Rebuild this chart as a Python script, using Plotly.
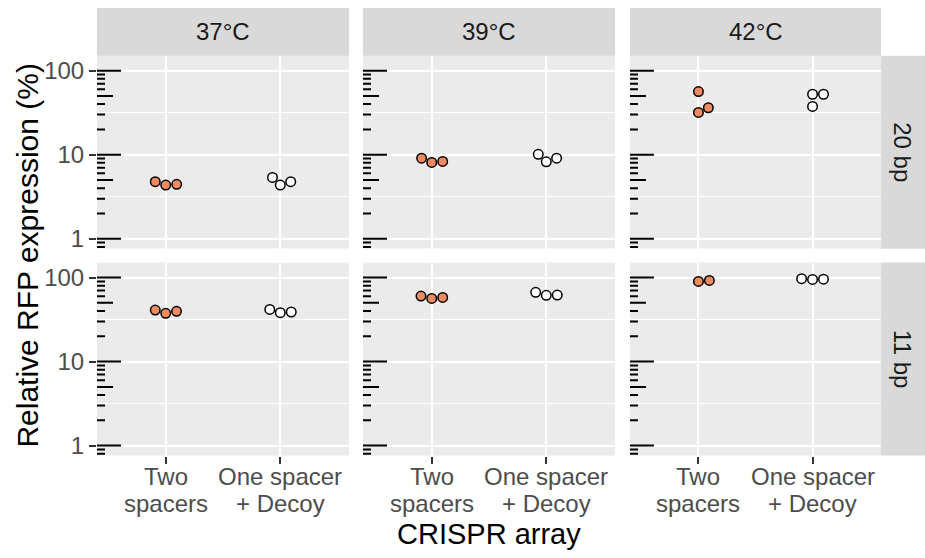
import numpy as np
import plotly.graph_objects as go

# ---- data -------------------------------------------------------------
temps = ["37°C", "39°C", "42°C"]
spacer_lengths = ["20 bp", "11 bp"]
array_labels = [["Two", "spacers"], ["One spacer", "+ Decoy"]]
y_tick_values = [1, 10, 100]
y_tick_labels = ["1", "10", "100"]

# Relative RFP expression (%) of the replicates, one list per temperature
two_spacers_20bp = [[4.77, 4.35, 4.44], [9.10, 8.09, 8.31], [56.4, 36.2, 31.8]]
decoy_20bp = [[5.37, 4.35, 4.77], [10.1, 8.22, 9.10], [52.4, 52.4, 37.5]]
two_spacers_11bp = [[41.0, 37.5, 39.6], [60.2, 56.5, 58.0], [89.9, 92.4]]
decoy_11bp = [[41.8, 38.2, 38.9], [66.6, 61.4, 61.8], [96.8, 95.0, 95.7]]

series_by_row = [
    [two_spacers_20bp, decoy_20bp],
    [two_spacers_11bp, decoy_11bp],
]

# ---- layout geometry (pixels) ----------------------------------------
W, H = 925, 558
COLS = [(97, 349), (363, 615), (630, 881)]
ROWS = [(56, 250), (264, 458)]
STRIP_TOP = (8, 56)
STRIP_RIGHT = (881, 925)
X_RANGE = [0.4, 2.6]
Y_RANGE = [-0.118, 2.178]          # log10 units
X_LABEL_LINES_Y = [479, 506]       # centres of the two category-label lines

PX_PER_X = (COLS[0][1] - COLS[0][0]) / (X_RANGE[1] - X_RANGE[0])
PX_PER_DEC = (ROWS[0][1] - ROWS[0][0]) / (Y_RANGE[1] - Y_RANGE[0])

FONT = "Liberation Sans, Arial, Helvetica, sans-serif"
FILLS = ["#EF8A62", "#FFFFFF"]
PANEL_BG = "#EBEBEB"
STRIP_BG = "#D9D9D9"

MARKER_SIZE = 9.5
MARKER_LINE = 1.5
SWARM_DIAMETER = MARKER_SIZE + MARKER_LINE


def swarm_x(values, center):
    """Beeswarm placement: points stacked in ascending order, each moved
    sideways by the smallest amount that keeps it clear of earlier points."""
    ys = np.log10(np.asarray(values, dtype=float)) * PX_PER_DEC
    order = np.argsort(ys, kind="stable")
    d = SWARM_DIAMETER
    placed = []
    offsets = np.zeros(len(ys))
    for i in order:
        y = ys[i]
        cands = [0.0]
        for xj, yj in placed:
            dy = abs(y - yj)
            if dy < d:
                dx = np.sqrt(d * d - dy * dy)
                cands += [xj + dx, xj - dx]
        free = [c for c in cands
                if all((c - xj) ** 2 + (y - yj) ** 2 >= d * d - 1e-6 for xj, yj in placed)]
        best = min(free, key=lambda c: (round(abs(c), 6), -c))
        placed.append((best, y))
        offsets[i] = best
    return list(center + offsets / PX_PER_X)


def log_tick_segments():
    """annotation_logticks-style marks: long at decades, mid at 5, short elsewhere."""
    lo, hi = 10 ** Y_RANGE[0], 10 ** Y_RANGE[1]
    xs, ys = [], []
    for dec in range(-1, 3):
        for k in range(1, 10):
            v = k * 10.0 ** dec
            if v < lo or v > hi:
                continue
            length_px = 24 if k == 1 else (16 if k == 5 else 8)
            x0 = X_RANGE[0]
            xs += [x0, x0 + length_px / PX_PER_X, None]
            ys += [v, v, None]
    return xs, ys


fig = go.Figure()
layout = dict(
    width=W, height=H,
    margin=dict(l=0, r=0, t=0, b=0),
    paper_bgcolor="white",
    plot_bgcolor=PANEL_BG,
    showlegend=False,
    font=dict(family=FONT, color="#4D4D4D"),
)

shapes, annotations = [], []
tick_x, tick_y = log_tick_segments()

for r, (ry0, ry1) in enumerate(ROWS):
    for c, (cx0, cx1) in enumerate(COLS):
        n = r * 3 + c + 1
        xa = "x" if n == 1 else f"x{n}"
        ya = "y" if n == 1 else f"y{n}"
        bottom = r == len(ROWS) - 1
        left = c == 0

        layout["xaxis" if n == 1 else f"xaxis{n}"] = dict(
            domain=[cx0 / W, cx1 / W], anchor=ya, range=X_RANGE,
            tickmode="array", tickvals=[1, 2],
            showticklabels=False, ticks="outside" if bottom else "",
            ticklen=7, tickwidth=1.5, tickcolor="#333333",
            showgrid=True, gridcolor="white", gridwidth=2,
            zeroline=False, showline=False, fixedrange=True,
        )
        layout["yaxis" if n == 1 else f"yaxis{n}"] = dict(
            domain=[(H - ry1) / H, (H - ry0) / H], anchor=xa,
            type="log", range=Y_RANGE,
            tickmode="array", tickvals=y_tick_values, ticktext=y_tick_labels,
            showticklabels=left, ticks="outside" if left else "",
            ticklen=7, tickwidth=1.5, tickcolor="#333333",
            tickfont=dict(size=24, color="#4D4D4D", family=FONT),
            showgrid=True, gridcolor="white", gridwidth=2,
            minor=dict(tickmode="array", tickvals=[10 ** 0.5, 10 ** 1.5],
                       showgrid=True, gridcolor="white", gridwidth=1.1, ticks=""),
            zeroline=False, showline=False, fixedrange=True,
        )

        # log tick marks along the left edge of the panel
        fig.add_trace(go.Scatter(
            x=tick_x, y=tick_y, xaxis=xa, yaxis=ya, mode="lines",
            line=dict(color="black", width=2), hoverinfo="skip",
        ))

        # replicate points, one swarm per CRISPR array
        for a, series in enumerate(series_by_row[r]):
            vals = series[c]
            fig.add_trace(go.Scatter(
                x=swarm_x(vals, a + 1), y=vals, xaxis=xa, yaxis=ya,
                mode="markers",
                marker=dict(size=MARKER_SIZE, color=FILLS[a],
                            line=dict(color="black", width=MARKER_LINE)),
            ))

        # category labels under the bottom row (two tightly spaced lines)
        if bottom:
            for a, lines in enumerate(array_labels):
                for li, line in enumerate(lines):
                    annotations.append(dict(
                        text=line, xref=xa, yref="paper", x=a + 1,
                        y=(H - X_LABEL_LINES_Y[li]) / H,
                        showarrow=False, xanchor="center", yanchor="middle",
                        font=dict(size=24, color="#4D4D4D", family=FONT)))

# column strips
for c, (cx0, cx1) in enumerate(COLS):
    shapes.append(dict(type="rect", xref="paper", yref="paper", layer="below",
                       x0=cx0 / W, x1=cx1 / W,
                       y0=(H - STRIP_TOP[1]) / H, y1=(H - STRIP_TOP[0]) / H,
                       fillcolor=STRIP_BG, line=dict(width=0)))
    annotations.append(dict(text=temps[c], xref="paper", yref="paper",
                            x=(cx0 + cx1) / 2 / W,
                            y=(H - (STRIP_TOP[0] + STRIP_TOP[1]) / 2) / H,
                            showarrow=False, xanchor="center", yanchor="middle",
                            font=dict(size=24, color="#1A1A1A", family=FONT)))

# row strips
for r, (ry0, ry1) in enumerate(ROWS):
    shapes.append(dict(type="rect", xref="paper", yref="paper", layer="below",
                       x0=STRIP_RIGHT[0] / W, x1=STRIP_RIGHT[1] / W,
                       y0=(H - ry1) / H, y1=(H - ry0) / H,
                       fillcolor=STRIP_BG, line=dict(width=0)))
    annotations.append(dict(text=spacer_lengths[r], xref="paper", yref="paper",
                            x=(STRIP_RIGHT[0] + STRIP_RIGHT[1]) / 2 / W,
                            y=(H - (ry0 + ry1) / 2) / H, textangle=90,
                            showarrow=False, xanchor="center", yanchor="middle",
                            font=dict(size=24, color="#1A1A1A", family=FONT)))

# axis titles
annotations.append(dict(text="CRISPR array", xref="paper", yref="paper",
                        x=(COLS[0][0] + COLS[-1][1]) / 2 / W, y=(H - 537) / H,
                        showarrow=False, xanchor="center", yanchor="middle",
                        font=dict(size=29, color="black", family=FONT)))
annotations.append(dict(text="Relative RFP expression (%)", xref="paper", yref="paper",
                        x=28 / W, y=(H - (ROWS[0][0] + ROWS[-1][1]) / 2) / H,
                        textangle=-90, showarrow=False,
                        xanchor="center", yanchor="middle",
                        font=dict(size=30, color="black", family=FONT)))

layout["shapes"] = shapes
layout["annotations"] = annotations
fig.update_layout(**layout)
fig.write_html("out.html")
